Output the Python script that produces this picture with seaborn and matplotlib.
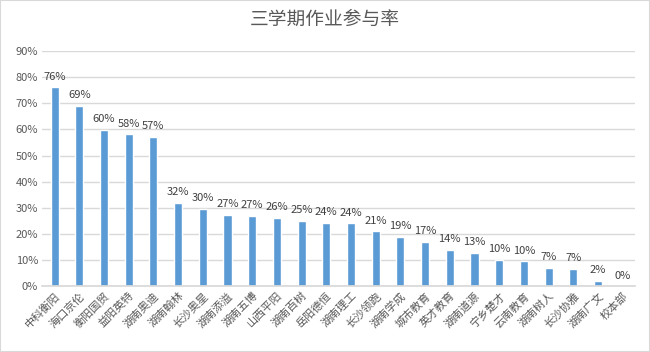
import pandas as pd
import seaborn as sns
import matplotlib.pyplot as plt
from matplotlib.ticker import PercentFormatter

# data
schools = ['中科衡阳', '海口京伦', '衡阳国贸', '益阳英特', '湖南奥迪', '湖南翰林', '长沙奥星',
           '湖南添溢', '湖南五博', '山西平阳', '湖南百树', '岳阳德恒', '湖南理工', '长沙领跑',
           '湖南学成', '城市教育', '英才教育', '湖南道源', '宁乡楚才', '云南教育', '湖南树人',
           '长沙协雅', '湖南广文', '校本部']
rates = [0.762, 0.690, 0.598, 0.582, 0.572, 0.320, 0.297, 0.274, 0.270, 0.262, 0.251, 0.243,
         0.240, 0.210, 0.190, 0.170, 0.140, 0.128, 0.100, 0.096, 0.070, 0.066, 0.020, 0.0]

df = pd.DataFrame({'school': schools, 'rate': rates})

sns.set_theme(style='white')
plt.rcParams['font.family'] = ['Noto Sans CJK SC', 'DejaVu Sans']

fig = plt.figure(figsize=(6.5, 3.52), dpi=100)
ax = fig.add_axes([0.065, 0.187, 0.912, 0.668])
sns.barplot(data=df, x='school', y='rate', color='#5B9BD5', saturation=1, width=0.33, ax=ax)

for p, v in zip(ax.patches, rates):
    ax.annotate(f'{v:.0%}', (p.get_x() + p.get_width() / 2, v), xytext=(0, 4),
                textcoords='offset points', ha='center', va='bottom', fontsize=8, color='#404040')

ax.set_ylim(0, 0.9)
ax.set_yticks([i / 10 for i in range(10)])
ax.yaxis.set_major_formatter(PercentFormatter(1.0, decimals=0))
ax.set_xlim(-0.5, len(schools) - 0.5)
ax.grid(axis='y', color='#D9D9D9', linewidth=1)
ax.set_axisbelow(True)
for s in ['top', 'right', 'left']:
    ax.spines[s].set_visible(False)
ax.spines['bottom'].set_color('#D9D9D9')
ax.tick_params(axis='both', length=0, labelsize=8, colors='#595959', pad=3)
plt.setp(ax.get_xticklabels(), rotation=45, ha='right', rotation_mode='anchor')
ax.set_xlabel('')
ax.set_ylabel('')

fig.suptitle('三学期作业参与率', y=0.975, fontsize=13.5, color='#595959')
fig.patches.append(plt.Rectangle((0, 0), 1, 1, transform=fig.transFigure, fill=False,
                                 edgecolor='#D9D9D9', linewidth=1.5))

fig.savefig('out.png', dpi=100)
